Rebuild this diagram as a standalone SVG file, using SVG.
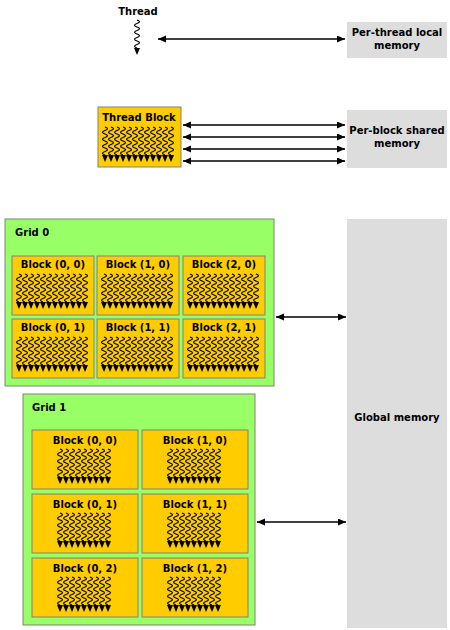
<svg xmlns="http://www.w3.org/2000/svg" xmlns:xlink="http://www.w3.org/1999/xlink" width="450" height="630" viewBox="0 0 450 630">
<style>
text{font-family:"DejaVu Sans","Liberation Sans",sans-serif;font-weight:bold;font-size:10px;fill:#000}
.c{text-anchor:middle}
.blk{fill:#FFCC00;stroke:#808080;stroke-width:1}
.grid{fill:#99FF66;stroke:#808080;stroke-width:1}
.mem{fill:#DDDDDD;stroke:none}
.sq{fill:none;stroke:#000;stroke-width:1.1}
.conn line{stroke:#000;stroke-width:1.5;marker-start:url(#ah);marker-end:url(#ah)}
</style>
<defs>
<marker id="ah" markerUnits="userSpaceOnUse" markerWidth="9" markerHeight="8" refX="8" refY="3.5" orient="auto-start-reverse"><path d="M0,0 L8,3.5 L0,7 z" fill="#000"/></marker>
<g id="thr"><path class="sq" d="M0,0 q5,1.75 0,3.5 t0,3.5 t0,3.5 t0,3.5 t0,3.5 t0,3.5 t0,3.5 t0,3.5"/><polygon points="-3,28 3,28 0,35" fill="#000"/></g>
<g id="row12"><use xlink:href="#thr" x="0"/><use xlink:href="#thr" x="6"/><use xlink:href="#thr" x="12"/><use xlink:href="#thr" x="18"/><use xlink:href="#thr" x="24"/><use xlink:href="#thr" x="30"/><use xlink:href="#thr" x="36"/><use xlink:href="#thr" x="42"/><use xlink:href="#thr" x="48"/><use xlink:href="#thr" x="54"/><use xlink:href="#thr" x="60"/><use xlink:href="#thr" x="66"/></g>
<g id="row9"><use xlink:href="#thr" x="0"/><use xlink:href="#thr" x="6"/><use xlink:href="#thr" x="12"/><use xlink:href="#thr" x="18"/><use xlink:href="#thr" x="24"/><use xlink:href="#thr" x="30"/><use xlink:href="#thr" x="36"/><use xlink:href="#thr" x="42"/><use xlink:href="#thr" x="48"/></g>
</defs>
<rect width="450" height="630" fill="#fff"/>

<g id="thread">
<text class="c" x="138" y="15">Thread</text>
<use xlink:href="#thr" x="137" y="20"/>
</g>

<g id="local-mem">
<rect class="mem" x="347" y="22" width="100" height="36"/>
<text class="c" x="397" y="36">Per-thread local</text>
<text class="c" x="397" y="49">memory</text>
</g>

<g id="thread-block">
<rect class="blk" x="98" y="107" width="83" height="60"/>
<text class="c" x="139" y="121">Thread Block</text>
<use xlink:href="#row12" x="105" y="127"/>
</g>

<g id="shared-mem">
<rect class="mem" x="347" y="110" width="100" height="58"/>
<text class="c" x="397" y="134">Per-block shared</text>
<text class="c" x="397" y="147">memory</text>
</g>

<g id="grid0">
<rect class="grid" x="5" y="219" width="269" height="167"/>
<text x="15" y="236">Grid 0</text>
</g>
<g id="g0-b00"><rect class="blk" x="12" y="256" width="82" height="59"/><text class="c" x="53" y="268">Block (0, 0)</text><use xlink:href="#row12" x="19" y="274"/></g>
<g id="g0-b10"><rect class="blk" x="97" y="256" width="82" height="59"/><text class="c" x="138" y="268">Block (1, 0)</text><use xlink:href="#row12" x="104" y="274"/></g>
<g id="g0-b20"><rect class="blk" x="183" y="256" width="82" height="59"/><text class="c" x="224" y="268">Block (2, 0)</text><use xlink:href="#row12" x="190" y="274"/></g>
<g id="g0-b01"><rect class="blk" x="12" y="319" width="82" height="59"/><text class="c" x="53" y="331">Block (0, 1)</text><use xlink:href="#row12" x="19" y="337"/></g>
<g id="g0-b11"><rect class="blk" x="97" y="319" width="82" height="59"/><text class="c" x="138" y="331">Block (1, 1)</text><use xlink:href="#row12" x="104" y="337"/></g>
<g id="g0-b21"><rect class="blk" x="183" y="319" width="82" height="59"/><text class="c" x="224" y="331">Block (2, 1)</text><use xlink:href="#row12" x="190" y="337"/></g>

<g id="grid1">
<rect class="grid" x="23" y="394" width="232" height="231"/>
<text x="32" y="411">Grid 1</text>
</g>
<g id="g1-b00"><rect class="blk" x="32" y="430" width="106" height="59"/><text class="c" x="85" y="444">Block (0, 0)</text><use xlink:href="#row9" x="60" y="449"/></g>
<g id="g1-b10"><rect class="blk" x="142" y="430" width="106" height="59"/><text class="c" x="195" y="444">Block (1, 0)</text><use xlink:href="#row9" x="170" y="449"/></g>
<g id="g1-b01"><rect class="blk" x="32" y="494" width="106" height="59"/><text class="c" x="85" y="508">Block (0, 1)</text><use xlink:href="#row9" x="60" y="513"/></g>
<g id="g1-b11"><rect class="blk" x="142" y="494" width="106" height="59"/><text class="c" x="195" y="508">Block (1, 1)</text><use xlink:href="#row9" x="170" y="513"/></g>
<g id="g1-b02"><rect class="blk" x="32" y="558" width="106" height="59"/><text class="c" x="85" y="572">Block (0, 2)</text><use xlink:href="#row9" x="60" y="577"/></g>
<g id="g1-b12"><rect class="blk" x="142" y="558" width="106" height="59"/><text class="c" x="195" y="572">Block (1, 2)</text><use xlink:href="#row9" x="170" y="577"/></g>

<g id="global-mem">
<rect class="mem" x="347" y="219" width="100" height="409"/>
<text class="c" x="397" y="421">Global memory</text>
</g>

<g id="connectors" class="conn">
<line x1="158" y1="39" x2="345" y2="39"/>
<line x1="183" y1="125" x2="345" y2="125"/>
<line x1="183" y1="137" x2="345" y2="137"/>
<line x1="183" y1="149" x2="345" y2="149"/>
<line x1="183" y1="161" x2="345" y2="161"/>
<line x1="276" y1="317" x2="346" y2="317"/>
<line x1="257" y1="522" x2="346" y2="522"/>
</g>
</svg>
